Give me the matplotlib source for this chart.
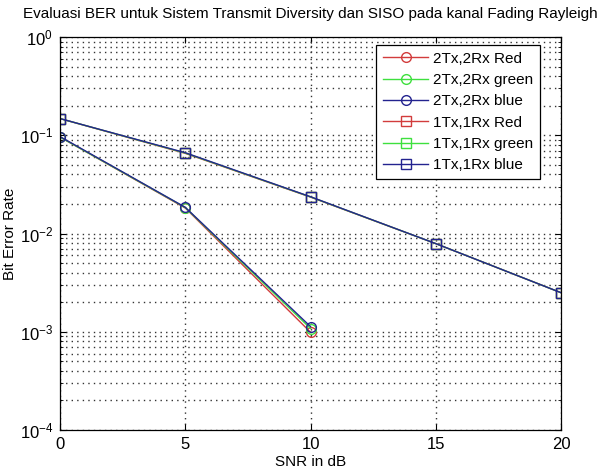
import matplotlib
matplotlib.use("Agg")
from matplotlib import pyplot as plt
from matplotlib.ticker import LogLocator, NullFormatter, FixedLocator

plt.rcParams['font.family'] = ['Liberation Sans', 'DejaVu Sans']
plt.rcParams['mathtext.fontset'] = 'custom'
plt.rcParams['mathtext.rm'] = 'Liberation Sans'

# SNR points
snr_2x2 = [0, 5, 10]
snr_1x1 = [0, 5, 10, 15, 20]

# BER values
ber_2x2_red = [0.096, 0.0182, 0.00099]
ber_2x2_green = [0.096, 0.0184, 0.00108]
ber_2x2_blue = [0.097, 0.0185, 0.00113]
ber_1x1_red = [0.148, 0.0655, 0.0235, 0.0079, 0.0025]
ber_1x1_green = [0.148, 0.066, 0.0236, 0.0079, 0.0025]
ber_1x1_blue = [0.148, 0.0665, 0.0237, 0.0079, 0.0025]

labels = ['2Tx,2Rx Red', '2Tx,2Rx green', '2Tx,2Rx blue',
          '1Tx,1Rx Red', '1Tx,1Rx green', '1Tx,1Rx blue']

red = '#d23c3c'
green = '#3ee03e'
blue = '#23238f'

fig = plt.figure(figsize=(6.02, 4.69), dpi=100)
ax = fig.add_axes([0.0997, 0.083, 0.8323, 0.838])

ax.semilogy(snr_2x2, ber_2x2_red, '-o', color=red, mfc='none', ms=7, lw=1, label=labels[0])
ax.semilogy(snr_2x2, ber_2x2_green, '-o', color=green, mfc='none', ms=7, lw=1, label=labels[1])
ax.semilogy(snr_2x2, ber_2x2_blue, '-o', color=blue, mfc='none', ms=7, lw=1, label=labels[2])
ax.semilogy(snr_1x1, ber_1x1_red, '-s', color=red, mfc='none', ms=7, lw=1, label=labels[3])
ax.semilogy(snr_1x1, ber_1x1_green, '-s', color=green, mfc='none', ms=7, lw=1, label=labels[4])
ax.semilogy(snr_1x1, ber_1x1_blue, '-s', color=blue, mfc='none', ms=7, lw=1, label=labels[5])

ax.set_xlim(0, 20)
ax.set_ylim(1e-4, 1)
ax.xaxis.set_major_locator(FixedLocator([0, 5, 10, 15, 20]))
ax.yaxis.set_major_locator(LogLocator(base=10, numticks=10))
ax.yaxis.set_minor_locator(LogLocator(base=10, subs=range(2, 10), numticks=10))
ax.yaxis.set_minor_formatter(NullFormatter())

dots = (0, (1, 3))
ax.grid(True, which='major', ls=dots, color='#333333', lw=1)
ax.grid(True, which='minor', axis='y', ls=dots, color='#333333', lw=1)
ax.tick_params(which='both', direction='in', top=True, right=True, labelsize=12)
ax.tick_params(which='major', length=4, pad=5)
ax.tick_params(which='minor', length=2)
for s in ax.spines.values():
    s.set_linewidth(0.9)

ax.set_xlabel('SNR in dB', fontsize=11, labelpad=2)
ax.set_ylabel('Bit Error Rate', fontsize=11, labelpad=2)
ax.set_title('Evaluasi BER untuk Sistem Transmit Diversity dan SISO pada kanal Fading Rayleigh',
             fontsize=11, pad=14)

leg = ax.legend(loc='upper right', fontsize=11, fancybox=False, framealpha=1,
                edgecolor='black', handlelength=3.0, bbox_to_anchor=(0.958, 0.98),
                labelspacing=0.48, handletextpad=0.3, borderpad=0.45, borderaxespad=0)
leg.get_frame().set_linewidth(0.9)

fig.savefig('out.png', dpi=100)
